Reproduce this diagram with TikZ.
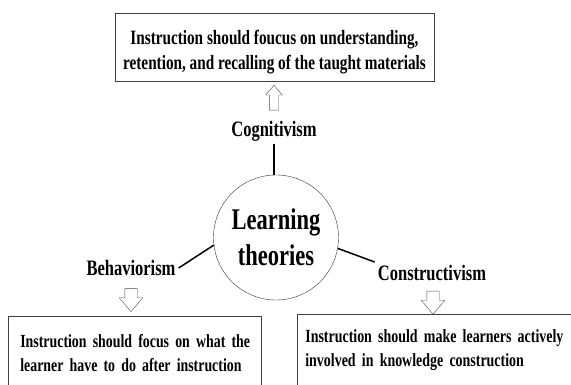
\documentclass[tikz,border=0pt]{standalone}
\usepackage{fontspec}
\setmainfont{Liberation Serif}[FakeStretch=0.75]
\usetikzlibrary{shapes.arrows}
\begin{document}
\begin{tikzpicture}[x=1pt, y=-1pt, inner sep=0mm,
		boxstyle/.style={draw=black!75, line width=0.7pt, font=\fontsize{18.5}{23.5}\selectfont\bfseries},
		labelstyle/.style={inner sep=3pt, font=\fontsize{22}{26}\selectfont\bfseries},
		edgestyle/.style={line width=1.5pt},
		arrowstyle/.style={draw=black!70, thin, single arrow, single arrow tip angle=80}]

		\useasboundingbox (0,0) rectangle (571,385);

		\node [circle, draw=black!80, thin, minimum size=125pt, align=center,
			font=\fontsize{30}{36}\selectfont\bfseries] (lt) at (276,237.5) {Learning\\theories};

		\node [labelstyle] (cog) at (274,131) {Cognitivism};
		\node [labelstyle] (beh) at (131,268) {Behaviorism};
		\node [labelstyle] (cons) at (432,273) {Constructivism};

		\node [boxstyle, font=\fontsize{20.3}{25}\selectfont\bfseries, minimum width=319pt, minimum height=68pt,
			align=center] (cogbox) at (274.5,47)
			{\rule{0pt}{24pt}Instruction should foucus on understanding,\\retention, and recalling of the taught materials};
		\node [boxstyle, minimum height=74pt, inner xsep=4pt, text width=245pt, anchor=west,
			align=left] (behbox) at (8,353)
			{\hspace*{8pt}Instruction should focus on what the\\\hspace*{8pt}learner have to do after instruction};
		\node [boxstyle, font=\fontsize{18.6}{24}\selectfont\bfseries, minimum height=72pt, inner xsep=4pt,
			text width=300pt, anchor=west, align=left] (consbox) at (297,350)
			{\hspace*{4pt}Instruction should make learners actively\\\hspace*{4pt}involved in knowledge construction};

		\node [arrowstyle, inner sep=4.5pt, single arrow head extend=3.5pt, minimum height=25pt,
			shape border rotate=90] (cogarr) at (274,100.5) {};
		\foreach \name/\x/\y in {beharr/131/296.5, consarr/433/299}
		{
			\node [arrowstyle, inner sep=6pt, single arrow head extend=5.5pt, minimum height=23pt,
				shape border rotate=270] (\name) at (\x,\y) {};
		}

		\draw[edgestyle] (cog.south) -- (cog.south |- lt.north);
		\draw[edgestyle] (beh.east) -- (lt.187);
		\draw[edgestyle] (lt.350) -- (cons.north west);

		\end{tikzpicture}
\end{document}
